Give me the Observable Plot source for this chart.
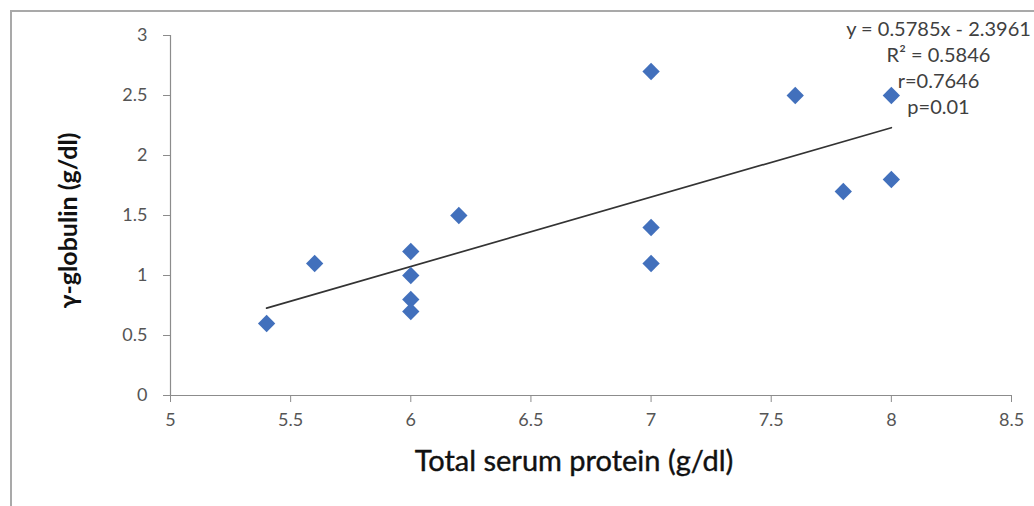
<!DOCTYPE html>
<html><head><meta charset="utf-8">
<script src="https://cdn.jsdelivr.net/npm/d3@7"></script>
<script src="https://cdn.jsdelivr.net/npm/@observablehq/plot@0.6"></script>
<style>
html,body{margin:0;padding:0;background:#fff;overflow:hidden;}
#wrap{position:relative;width:1034px;height:506px;}
#border{position:absolute;left:10px;top:10px;width:1060px;height:540px;border-left:2px solid #a9a9a9;border-top:2px solid #a9a9a9;pointer-events:none;}
</style></head><body><div id="wrap"><div id="border"></div></div>
<script>
const protein  = [5.4, 5.6, 6.0, 6.0, 6.0, 6.0, 6.2, 7.0, 7.0, 7.0, 7.6, 7.8, 8.0, 8.0];
const globulin = [0.6, 1.1, 1.2, 1.0, 0.8, 0.7, 1.5, 2.7, 1.4, 1.1, 2.5, 1.7, 2.5, 1.8];
const xTicks = [5, 5.5, 6, 6.5, 7, 7.5, 8, 8.5];
const yTicks = [0, 0.5, 1, 1.5, 2, 2.5, 3];
const statLines = ["y = 0.5785x - 2.3961", "R\u00b2 = 0.5846", "r=0.7646", "p=0.01"];
const xLabel = "Total serum protein (g/dl)";
const yLabel = "\u03b3-globulin (g/dl)";

const points = protein.map((x, i) => ({x, y: globulin[i]}));
const fontFam = "Lato, 'Open Sans', sans-serif";

const chart = Plot.plot({
  width: 1034,
  height: 506,
  marginLeft: 170,
  marginRight: 23,
  marginTop: 35,
  marginBottom: 111,
  style: {fontFamily: fontFam, background: "transparent", overflow: "visible"},
  x: {domain: [5, 8.5]},
  y: {domain: [0, 3]},
  marks: [
    Plot.ruleX([5], {stroke: "#8c8c8c", strokeWidth: 1.2}),
    Plot.ruleY([0], {stroke: "#8c8c8c", strokeWidth: 1.2}),
    Plot.axisX({ticks: xTicks, tickFormat: d => String(d), tickSize: 7, tickPadding: 11, stroke: "#8c8c8c", fill: "#555555", fontSize: 18, label: null}),
    Plot.axisY({ticks: yTicks, tickFormat: d => String(d), tickSize: 7, tickPadding: 16, stroke: "#8c8c8c", fill: "#555555", fontSize: 18, label: null}),
    Plot.linearRegressionY(points, {x: "x", y: "y", ci: 0, stroke: "#333333", strokeWidth: 1.7}),
    Plot.dot(points, {x: "x", y: "y", symbol: "diamond2", r: 7.8, fill: "#4270BC", stroke: "none"}),
    Plot.text([statLines.join("\n")], {frameAnchor: "top-right", dx: -73, dy: -18, textAnchor: "middle", lineAnchor: "top", lineHeight: 1.3, fontSize: 20, fill: "#404040"}),
    Plot.text([xLabel], {frameAnchor: "bottom", dx: -17, dy: 75, fontSize: 29, fill: "#111111", stroke: "#111111", strokeWidth: 0.4}),
    Plot.text([yLabel], {frameAnchor: "left", textAnchor: "middle", rotate: -90, dx: -102, dy: 5, fontSize: 25, fontWeight: "bold", fill: "#111111"})
  ]
});
chart.style.position = "absolute";
chart.style.left = "0px";
chart.style.top = "0px";
document.getElementById("wrap").prepend(chart);
</script>
</body></html>
